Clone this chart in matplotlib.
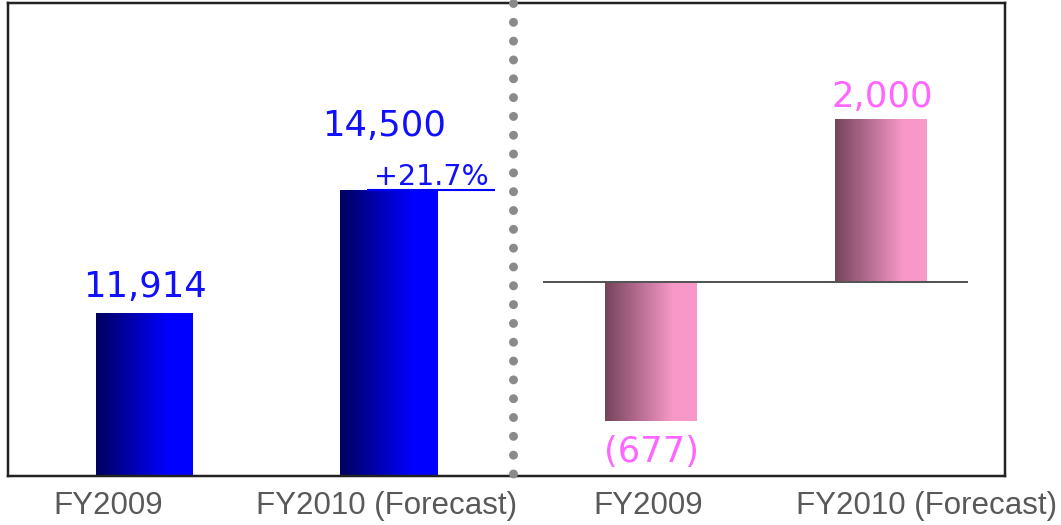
import numpy as np
import matplotlib
matplotlib.use("Agg")
import matplotlib.pyplot as plt
from matplotlib.colors import to_rgb
from matplotlib.lines import Line2D

# data
categories = ["FY2009", "FY2010 (Forecast)"]
sales = [11914, 14500]
income = [-677, 2000]
sales_labels = ["11,914", "14,500"]
income_labels = ["(677)", "2,000"]
growth_label = "+21.7%"

W, H = 1061, 525
fig = plt.figure(figsize=(W / 100, H / 100), dpi=100)
px = 72 / 100  # points per pixel

ax1 = fig.add_axes([8 / W, 49 / H, 505 / W, 473 / H])
ax2 = fig.add_axes([513 / W, 49 / H, 492 / W, 473 / H])
ax1.patch.set_visible(False)
ax2.patch.set_visible(False)

frame_col = "#222222"
blue_txt = "#1010ff"
pink_txt = "#ff66ff"
tick_col = "#595959"


def gradient_bar(ax, x, v, width, c0, c1, ramp=0.75, n=90):
    c0 = np.array(to_rgb(c0))
    c1 = np.array(to_rgb(c1))
    edges = np.linspace(x - width / 2, x + width / 2, n + 1)
    for i in range(n):
        t = min((i + 0.5) / n / ramp, 1.0)
        col = c0 + (c1 - c0) * t
        ax.bar(edges[i], v, width=(edges[i + 1] - edges[i]) * 1.02, align="edge",
               color=col, linewidth=0, zorder=2)


xs = np.arange(len(categories))
bw = 0.397

# left panel: sales
for x, v in zip(xs, sales):
    gradient_bar(ax1, x, v, bw, "#00005e", "#0000ff")
ax1.set_xlim(-0.558, 1.507)
ax1.set_ylim(8488, 18433)

ax1.annotate(sales_labels[0], (xs[0], sales[0]), xytext=(1 * px, 16 * px),
             textcoords="offset points", ha="center", va="baseline",
             fontsize=25.5, color=blue_txt)
ax1.annotate(sales_labels[1], (xs[1], sales[1]), xytext=(-5 * px, 54 * px),
             textcoords="offset points", ha="center", va="baseline",
             fontsize=25.5, color=blue_txt)
ax1.annotate(growth_label, (xs[1], sales[1]), xytext=(42 * px, 5 * px),
             textcoords="offset points", ha="center", va="baseline",
             fontsize=20.5, color=blue_txt)
ax1.hlines(sales[1], xs[1] - 0.09, xs[1] + 0.434, color="#0000ff",
           linewidth=1.5, zorder=3)

# dotted separator between the panels
sep = Line2D([513 / W, 513 / W], [522 / H, 49 / H], transform=fig.transFigure,
             color="#8a8a8a", linewidth=9 * px, linestyle=(0, (0.001, 2.09)),
             dash_capstyle="round", zorder=5)
fig.add_artist(sep)

# right panel: operating income
k = 2.52
ax2.set_yscale("function", functions=(lambda v: np.where(v < 0, v * k, v),
                                      lambda u: np.where(u < 0, u / k, u)))
bw2 = 0.4
for x, v in zip(xs, income):
    gradient_bar(ax2, x, v, bw2, "#744359", "#f898c8")
ax2.set_xlim(-0.6, 1.539)
ax2.set_ylim(-944, 3423)
ax2.hlines(0, -0.47, 1.378, color="#555555", linewidth=2 * px, zorder=4)

ax2.annotate(income_labels[0], (xs[0], income[0]), xytext=(0, -14 * px),
             textcoords="offset points", ha="center", va="top",
             fontsize=25.5, color=pink_txt)
ax2.annotate(income_labels[1], (xs[1], income[1]), xytext=(1 * px, 12 * px),
             textcoords="offset points", ha="center", va="baseline",
             fontsize=25.5, color=pink_txt)

# axes styling
label_shift1 = [-0.149, -0.008]
label_shift2 = [-0.013, 0.196]
for ax, shift in ((ax1, label_shift1), (ax2, label_shift2)):
    ax.set_xticks(xs + np.array(shift))
    ax.set_xticklabels(categories, fontsize=22.5, color=tick_col,
                       family="Liberation Sans")
    ax.tick_params(axis="x", length=0, pad=11)
    ax.set_yticks([])
    for s in ax.spines.values():
        s.set_color(frame_col)
        s.set_linewidth(2.5 * px)
ax1.spines["right"].set_visible(False)
ax2.spines["left"].set_visible(False)

fig.savefig("out.png", dpi=100)
